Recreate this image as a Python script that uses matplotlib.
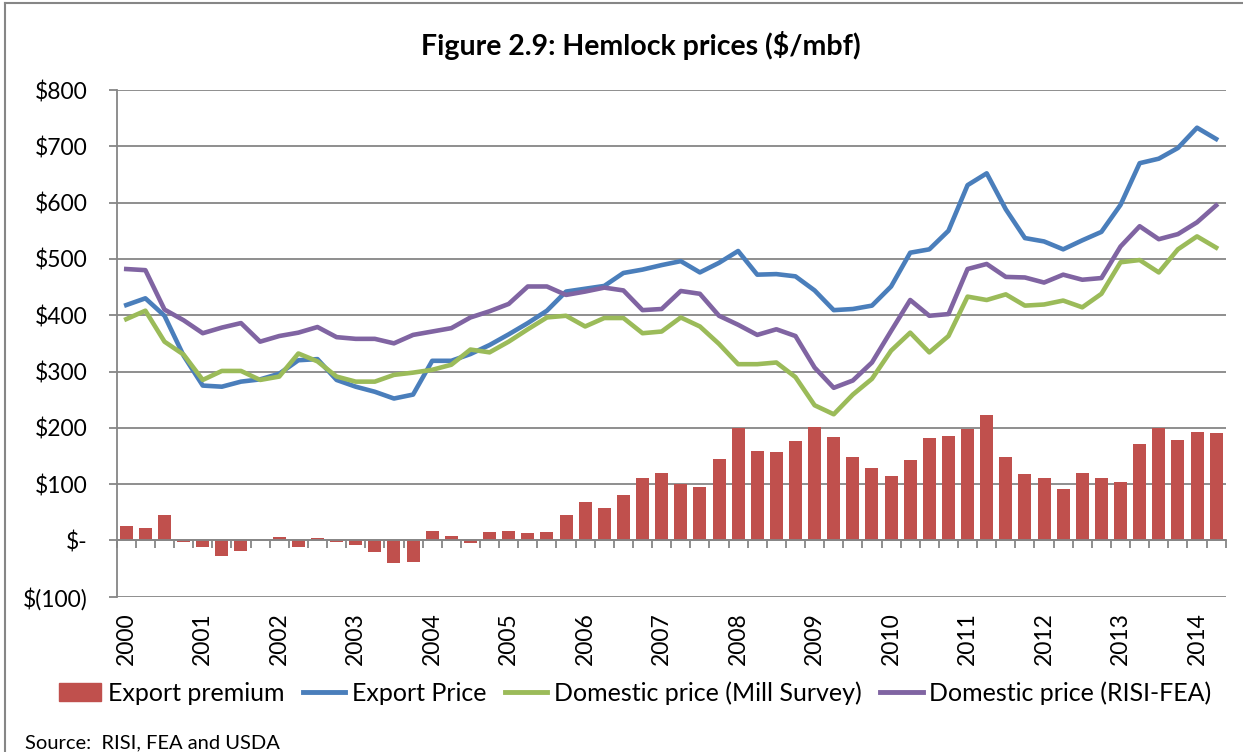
import numpy as np
import matplotlib
matplotlib.use("Agg")
import matplotlib.pyplot as plt
from matplotlib.lines import Line2D
from matplotlib.patches import Patch

plt.rcParams['font.family'] = ['Lato', 'DejaVu Sans']

# quarterly data, 2000 Q1 .. 2014 Q2 ($/mbf)
years = [str(y) for y in range(2000, 2015)]

export_price = [418, 430, 399, 328, 275, 273, 282, 286, 296, 320,
                322, 285, 273, 264, 252, 259, 319, 319, 331, 347,
                366, 386, 408, 442, 447, 452, 475, 481, 489, 496,
                476, 493, 514, 472, 473, 469, 444, 409, 411, 417,
                451, 511, 517, 550, 631, 652, 588, 537, 531, 517,
                533, 548, 596, 670, 678, 697, 733, 713]

mill_survey = [393, 408, 353, 330, 285, 301, 301, 285, 291, 332,
               318, 291, 282, 282, 294, 298, 303, 312, 339, 334,
               353, 375, 396, 399, 380, 395, 395, 368, 371, 396,
               380, 349, 313, 313, 316, 290, 240, 224, 259, 287,
               337, 369, 334, 363, 433, 427, 437, 417, 419, 426,
               414, 438, 494, 498, 476, 517, 540, 520]

risi_fea = [482, 480, 410, 391, 368, 378, 386, 353, 363, 369,
            379, 361, 358, 358, 350, 365, 371, 377, 396, 407,
            420, 451, 451, 436, 442, 449, 444, 409, 411, 443,
            438, 399, 383, 365, 375, 363, 307, 271, 284, 316,
            372, 427, 399, 402, 482, 491, 468, 467, 458, 472,
            463, 466, 522, 558, 535, 544, 565, 595]

export_premium = [25, 22, 45, -2, -11, -27, -18, 1, 6, -12,
                  5, -3, -9, -20, -40, -39, 17, 7, -5, 15,
                  16, 14, 15, 45, 68, 58, 80, 110, 119, 101,
                  95, 144, 200, 158, 157, 176, 201, 184, 149, 128,
                  114, 142, 182, 186, 197, 222, 149, 118, 110, 92,
                  119, 111, 104, 171, 200, 179, 193, 191]

y_ticks = [-100, 0, 100, 200, 300, 400, 500, 600, 700, 800]
y_labels = ['$(100)', '$-', '$100', '$200', '$300', '$400',
            '$500', '$600', '$700', '$800']

RED = '#C0504D'
BLUE = '#4A7EBB'
GREEN = '#9BBB59'
PURPLE = '#8064A2'
GRID = '#868686'

fig = plt.figure(figsize=(12.43, 7.52), dpi=100)
ax = fig.add_axes([116.7 / 1243, 1 - 596.7 / 752, 1109 / 1243, 506.7 / 752])

x = np.arange(len(export_price))
ax.bar(x, export_premium, width=0.68, color=RED, zorder=2)
ax.plot(x, export_price, color=BLUE, lw=3.3, zorder=3)
ax.plot(x, mill_survey, color=GREEN, lw=3.3, zorder=3)
ax.plot(x, risi_fea, color=PURPLE, lw=3.3, zorder=3)

ax.set_xlim(-0.5, len(x) - 0.5)
ax.set_ylim(-100, 800)
ax.set_yticks(y_ticks, y_labels)
ax.yaxis.grid(True, color=GRID, lw=1.3)
ax.set_axisbelow(True)
for s in ['top', 'right']:
    ax.spines[s].set_visible(False)
ax.spines['left'].set_color(GRID)
ax.spines['left'].set_linewidth(1.3)
ax.spines['bottom'].set_position(('data', 0))
ax.spines['bottom'].set_color(GRID)
ax.spines['bottom'].set_linewidth(1.3)
ax.spines['bottom'].set_zorder(4)

# category boundary ticks on the zero line
ax.set_xticks(np.arange(-0.5, len(x), 1))
ax.tick_params(axis='x', length=6, width=1.3, color=GRID, labelbottom=False)
ax.tick_params(axis='y', length=6, width=1.3, color=GRID, labelsize=16.5, pad=15)

# year labels at the bottom of the plot
sec = ax.secondary_xaxis(0)
sec.set_xticks(x[::4], years)
sec.tick_params(length=0, pad=11, labelsize=16.5, labelrotation=90)
sec.spines['bottom'].set_visible(False)

fig.text(641 / 1243, 1 - 45 / 752, 'Figure 2.9: Hemlock prices ($/mbf)',
         ha='center', va='center', fontsize=20.5, fontweight='bold')

handles = [Patch(color=RED, label='Export premium'),
           Line2D([], [], color=BLUE, lw=3.5, label='Export Price'),
           Line2D([], [], color=GREEN, lw=3.5, label='Domestic price (Mill Survey)'),
           Line2D([], [], color=PURPLE, lw=3.5, label='Domestic price (RISI-FEA)')]
fig.legend(handles=handles, loc='center', bbox_to_anchor=(635 / 1243, 1 - 693 / 752),
           ncol=4, frameon=False, fontsize=18, handlelength=1.7,
           handletextpad=0.25, columnspacing=0.75)

fig.text(25 / 1243, 1 - 743 / 752, 'Source:  RISI, FEA and USDA',
         ha='left', va='center', fontsize=14.5)

# outer chart frame (top and left edges visible)
fig.add_artist(Line2D([5 / 1243, 5 / 1243], [0, 1 - 2.5 / 752],
                      transform=fig.transFigure, color=GRID, lw=1.5))
fig.add_artist(Line2D([5 / 1243, 1], [1 - 2.5 / 752, 1 - 2.5 / 752],
                      transform=fig.transFigure, color=GRID, lw=1.5))

fig.savefig('out.png', dpi=100)
